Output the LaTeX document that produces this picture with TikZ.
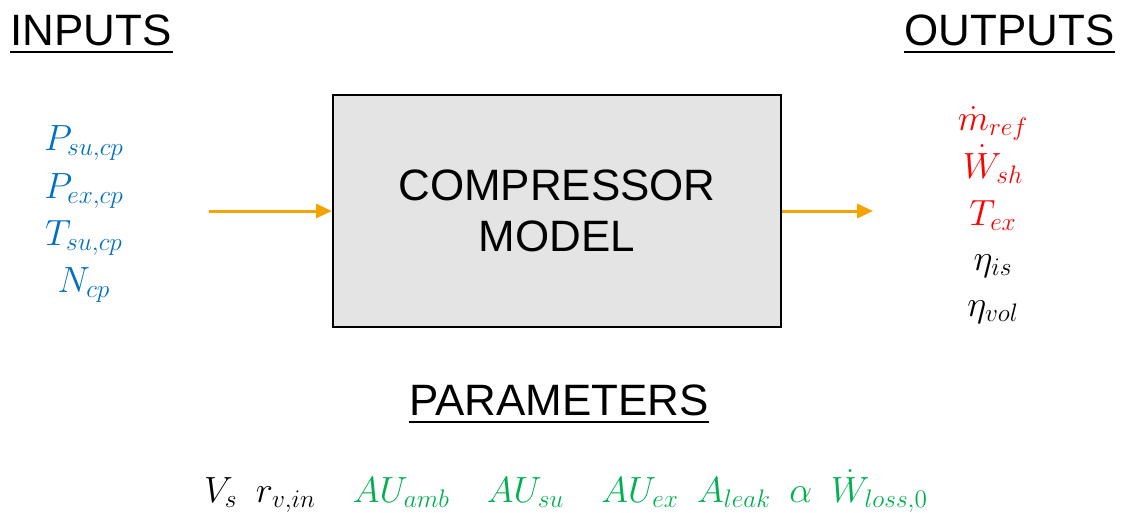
\documentclass[tikz,border=0pt]{standalone}
\usepackage{amsmath}
\usepackage{fontspec}
\setmainfont{Liberation Sans}
\usetikzlibrary{arrows.meta}

\definecolor{inblue}{HTML}{0070C0}
\definecolor{outred}{HTML}{FF0000}
\definecolor{pargreen}{HTML}{00B050}
\definecolor{floworange}{HTML}{F4A300}
\definecolor{boxgray}{HTML}{E4E4E4}

\begin{document}
\begin{tikzpicture}[thick,title/.style={font=\fontsize{25}{29}\selectfont,inner sep=0pt},var/.style={font=\fontsize{21}{25}\selectfont,inner sep=0pt,anchor=base},flow/.style={draw=floworange,line width=1.7pt,-{Triangle[length=9pt,width=8pt]}}]
\tikzstyle{model box} = [draw,line width=1.3pt,fill=boxgray,minimum width=8.96cm,minimum height=4.64cm,align=center,font=\fontsize{25}{29}\selectfont]

\useasboundingbox (0,0) rectangle (22.46,-10.24);

% Model block and flow arrows
\node[model box] (model) at (11.14,-4.22) {COMPRESSOR\\MODEL};
\coordinate (instart) at (4.18,-4.22);
\coordinate (outstop) at (17.46,-4.22);
\draw[flow] (instart) -- (model.west);
\draw[flow] (model.east) -- (outstop);

% Headings
\node[title,anchor=base west] (inputs) at (0.2,-0.9) {INPUTS};
\draw[line width=1.6pt] ([yshift=-4pt]inputs.base west) -- ([yshift=-4pt]inputs.base east);
\node[title,anchor=base east] (outputs) at (22.3,-0.9) {OUTPUTS};
\draw[line width=1.6pt] ([yshift=-4pt]outputs.base west) -- ([yshift=-4pt]outputs.base east);
\node[title,anchor=base] (params) at (11.18,-8.3) {PARAMETERS};
\draw[line width=1.6pt] ([yshift=-4pt]params.base west) -- ([yshift=-4pt]params.base east);

% Inputs
\node[var,text=inblue] (psu) at (1.68,-3.0) {$P_{su,cp}$};
\node[var,text=inblue] (pex) at (1.68,-3.96) {$P_{ex,cp}$};
\node[var,text=inblue] (tsu) at (1.68,-4.9) {$T_{su,cp}$};
\node[var,text=inblue] (ncp) at (1.68,-5.84) {$N_{cp}$};

% Outputs
\node[var,text=outred] (mref) at (19.86,-2.6) {$\dot{m}_{ref}$};
\node[var,text=outred] (wsh) at (19.86,-3.56) {$\dot{W}_{sh}$};
\node[var,text=outred] (tex) at (19.86,-4.5) {$T_{ex}$};
\node[var] (etais) at (19.86,-5.4) {$\eta_{is}$};
\node[var] (etavol) at (19.86,-6.32) {$\eta_{vol}$};

% Parameters
\node[var] (plist) at (11.32,-10.05) {$V_s\enskip r_{v,in}\quad\color{pargreen}AU_{amb}\quad AU_{su}\quad AU_{ex}\enskip A_{leak}\enskip\alpha\enskip\dot{W}_{loss,0}$};

\end{tikzpicture}
\end{document}
